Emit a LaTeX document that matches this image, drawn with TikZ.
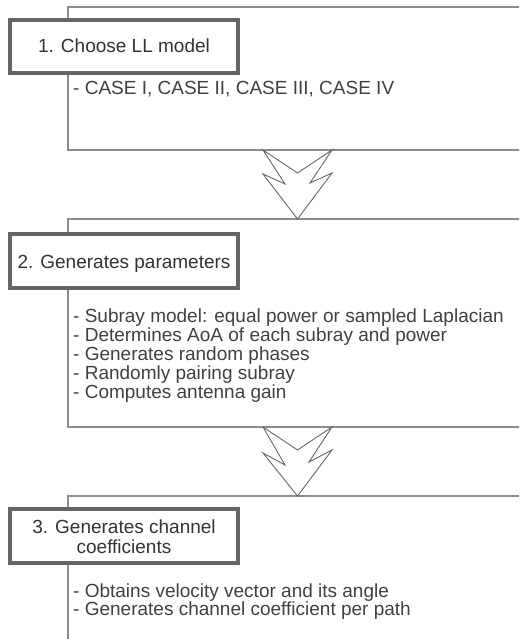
\documentclass[tikz,border=0pt]{standalone}
\usepackage{fontspec}
\setmainfont{Liberation Sans}
\begin{document}
\begin{tikzpicture}[x=1pt,y=1pt,
  bigbox/.style={draw=black!45, line width=1.6pt, fill=white},
  titlebox/.style={draw=black!60, line width=3.4pt, fill=white},
  titletext/.style={align=center, text=black!80, font=\fontsize{19}{20}\selectfont, inner sep=0pt},
  bodytext/.style={anchor=base west, text=black!75, font=\fontsize{19}{19}\selectfont, inner sep=0pt},
  chev/.style={draw=black!60, line width=0.9pt, fill=white, line join=miter}]
\useasboundingbox (0,0) rectangle (519,-639);
\clip (0,0) rectangle (519,-639);
\fill[white] (0,0) rectangle (519,-639);
% big boxes
\draw[bigbox] (68,-7) rectangle (545,-150);
\coordinate (b1s) at (297.5,-150);
\draw[bigbox] (68,-219) rectangle (545,-427);
\coordinate (b2n) at (297.5,-219);
\coordinate (b2s) at (297.5,-427);
\draw[bigbox] (68,-496) rectangle (545,-660);
\coordinate (b3n) at (297.5,-496);
% chevron arrows
\draw[chev] (b1s) ++(-34.5,0) -- ++(34.5,-23) -- ++(34.5,23) -- ++(-22,-33) -- ++(22,10)
  -- (b2n) -- ++(-34.5,45) -- ++(22,-10) -- cycle;
\draw[chev] (b2s) ++(-34.5,0) -- ++(34.5,-23) -- ++(34.5,23) -- ++(-23,-35) -- ++(23,12)
  -- (b3n) -- ++(-34.5,43) -- ++(22,-12) -- cycle;
% title boxes
\draw[titlebox] (10,-20) rectangle (238,-73);
\node[titletext, anchor=base] (t1) at (124,-53) {1. Choose LL model};
\draw[titlebox] (10,-234) rectangle (238,-288);
\node[titletext, anchor=base] (t2) at (124,-268) {2. Generates parameters};
\draw[titlebox] (10,-509) rectangle (238,-563);
\node[titletext, anchor=base] (t3a) at (124,-533) {3. Generates channel};
\node[titletext, anchor=base] (t3b) at (124,-553) {coefficients};
% body texts
\node[bodytext] (c1) at (73,-95) {- CASE I, CASE II, CASE III, CASE IV};
\node[bodytext] (p1) at (73,-322) {- Subray model: equal power or sampled Laplacian};
\node[bodytext] (p2) at (73,-341) {- Determines AoA of each subray and power};
\node[bodytext] (p3) at (73,-360) {- Generates random phases};
\node[bodytext] (p4) at (73,-379) {- Randomly pairing subray};
\node[bodytext] (p5) at (73,-398) {- Computes antenna gain};
\node[bodytext] (g1) at (73,-597) {- Obtains velocity vector and its angle};
\node[bodytext] (g2) at (73,-615) {- Generates channel coefficient per path};
\end{tikzpicture}
\end{document}
